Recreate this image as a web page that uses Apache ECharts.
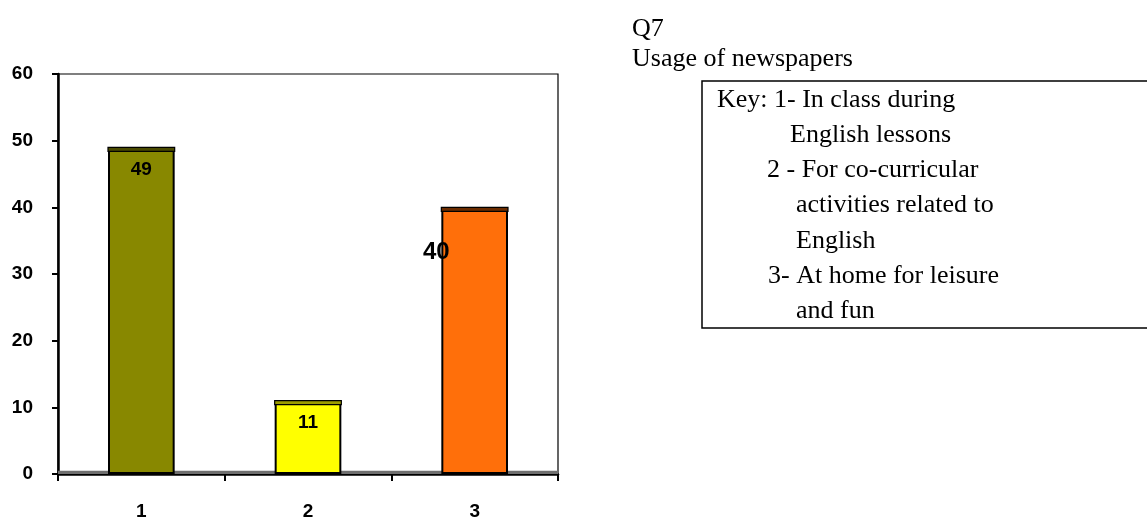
<!DOCTYPE html>
<html>
<head>
<meta charset="utf-8">
<script src="https://cdn.jsdelivr.net/npm/echarts@6/dist/echarts.min.js"></script>
<style>
html,body{margin:0;padding:0;background:#fff;}
#c{width:1147px;height:519px;}
</style>
</head>
<body>
<div id="c"></div>
<script>
var categories = ['1', '2', '3'];
var values = [49, 11, 40];
var barColors = ['#888800', '#FFFF00', '#FF6F0A'];
var capColors = ['#4A4A00', '#9C9C00', '#6B2C00'];
var yTicks = [0, 10, 20, 30, 40, 50, 60];
var titleLines = ['Q7', 'Usage of newspapers'];
var keyLines = [
  'Key: 1- In class during',
  'English lessons',
  '2 - For co-curricular',
  'activities related to',
  'English',
  '3- At home for leisure',
  'and fun'
];
var keyIndent = [0, 73, 50, 79, 79, 51, 79];

var chart = echarts.init(document.getElementById('c'), null, {renderer: 'canvas'});

var barData = values.map(function (v, i) {
  var d = {value: v, itemStyle: {color: barColors[i]}};
  if (i === 2) {
    d.label = {position: [-5, 45], fontSize: 24};
  }
  return d;
});

var graphics = [];
graphics.push({type: 'text', left: 632, top: 16, style: {text: titleLines[0], font: '26px "Liberation Serif"', fill: '#000'}});
graphics.push({type: 'text', left: 632, top: 46, style: {text: titleLines[1], font: '26px "Liberation Serif"', fill: '#000'}});
graphics.push({type: 'rect', shape: {x: 702, y: 81, width: 460, height: 247}, style: {fill: 'none', stroke: '#000', lineWidth: 1.5}});
keyLines.forEach(function (t, i) {
  graphics.push({type: 'text', left: 717 + keyIndent[i], top: 87 + i * 35.2, style: {text: t, font: '26px "Liberation Serif"', fill: '#000'}});
});

chart.setOption({
  animation: false,
  backgroundColor: '#fff',
  grid: {left: 58, right: 589, top: 74, bottom: 45, containLabel: false, outerBoundsMode: 'none',
    show: true, borderColor: '#000', borderWidth: 1.2, backgroundColor: '#fff'},
  xAxis: {
    type: 'category',
    data: categories,
    axisLine: {lineStyle: {color: '#000', width: 2.5}},
    axisTick: {show: true, length: 7, lineStyle: {color: '#000', width: 2}},
    axisLabel: {color: '#000', fontFamily: 'Arial, "Liberation Sans"', fontWeight: 'bold', fontSize: 19, margin: 28}
  },
  yAxis: {
    type: 'value',
    min: 0, max: 60, interval: 10,
    axisLine: {show: true, lineStyle: {color: '#000', width: 2.5}},
    axisTick: {show: true, length: 6, lineStyle: {color: '#000', width: 2}},
    splitLine: {show: false},
    axisLabel: {color: '#000', fontFamily: 'Arial, "Liberation Sans"', fontWeight: 'bold', fontSize: 19, margin: 25,
      formatter: function (v) { return yTicks.indexOf(v) >= 0 ? String(v) : ''; }}
  },
  series: [
    {
      type: 'bar',
      data: barData,
      barWidth: '40%',
      itemStyle: {borderColor: '#000', borderWidth: 2},
      label: {
        show: true,
        position: ['50%', 22],
        align: 'center',
        verticalAlign: 'middle',
        color: '#000',
        fontFamily: 'Arial, "Liberation Sans"',
        fontWeight: 'bold',
        fontSize: 19
      },
      markArea: {
        silent: true,
        itemStyle: {color: '#6F6F6F'},
        data: [[{yAxis: 0}, {yAxis: 0.5}]]
      },
      z: 2
    },
    {
      type: 'custom',
      data: values.map(function (v, i) { return [i, v]; }),
      renderItem: function (params, api) {
        var idx = api.value(0);
        var top = api.coord([idx, api.value(1)]);
        var w = api.size([1, 0])[0] * 0.4;
        return {
          type: 'rect',
          shape: {x: top[0] - w / 2, y: top[1], width: w, height: 4},
          style: {fill: capColors[params.dataIndex], stroke: '#000', lineWidth: 1.2}
        };
      },
      z: 3
    }
  ],
  graphic: graphics
});
</script>
</body>
</html>
